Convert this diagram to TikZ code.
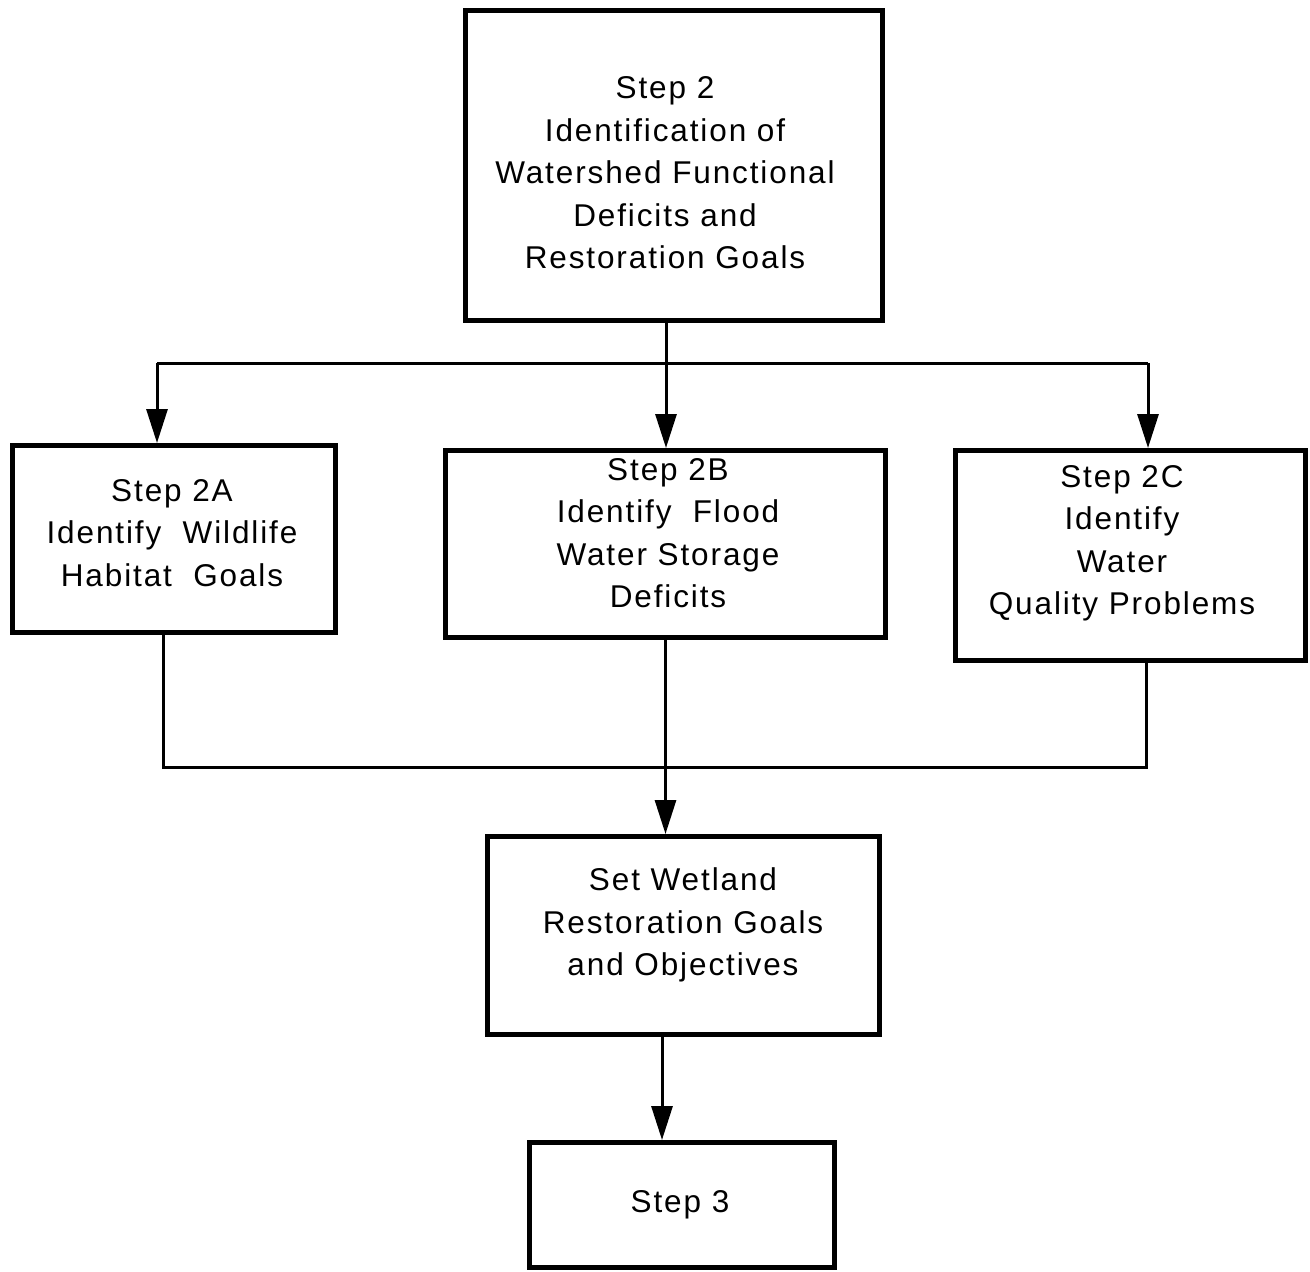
\documentclass[tikz,border=0pt]{standalone}
\usepackage{fontspec}
\setmainfont{Liberation Sans}[LetterSpace=6]
\usetikzlibrary{arrows.meta}
\begin{document}
\begin{tikzpicture}[x=1pt,y=-1pt,
  box/.style={draw=black,line width=5pt,rectangle,inner sep=0pt,fill=white},
  txt/.style={align=center,inner sep=0pt,font=\fontsize{31.5pt}{42.5pt}\selectfont},
  wire/.style={draw=black,line width=3pt},
  flow/.style={wire,-{Triangle[length=34pt,width=21pt]}}]
\useasboundingbox[fill=white] (0,0) rectangle (1310,1272);

% boxes
\node[box,minimum width=417pt,minimum height=310pt] (top) at (674,165.5) {};
\node[box,minimum width=323pt,minimum height=187pt] (a) at (174,539) {};
\node[box,minimum width=440pt,minimum height=187pt] (b) at (665.5,544) {};
\node[box,minimum width=350pt,minimum height=210pt] (c) at (1130.5,555.5) {};
\node[box,minimum width=392pt,minimum height=198pt] (set) at (683.5,935.5) {};
\node[box,minimum width=305pt,minimum height=125pt] (s3) at (682,1205) {};

% box texts
\node[txt] (ttop) at (665,173) {Step 2\\Identification of\\Watershed Functional\\Deficits and\\Restoration Goals};
\node[txt] (ta) at (172,533) {Step 2A\\Identify~ Wildlife\\Habitat~ Goals};
\node[txt] (tb) at (668,533) {Step 2B\\Identify~ Flood\\Water Storage\\Deficits};
\node[txt] (tc) at (1122,543.5) {Step 2C\\Identify\\Water\\Quality Problems};
\node[txt] (tset) at (683,925) {Set Wetland\\Restoration Goals\\and Objectives};
\node[txt] (ts3) at (680,1205) {Step 3};

% junction points
\coordinate (j1) at (666,363);
\coordinate (jl) at (157,363);
\coordinate (jr) at (1148,363);
\coordinate (kl) at (163,767);
\coordinate (kr) at (1146,767);
\coordinate (m) at (662,1037);

% split from Step 2
\draw[wire] (j1 |- top.south) -- (j1);
\draw[wire] (jl) -- (jr);
\draw[flow] (jl) -- (a.north -| jl);
\draw[flow] (j1) -- (b.north -| j1);
\draw[flow] (jr) -- (c.north -| jr);

% merge into goals
\draw[wire] (a.south -| kl) -- (kl) -- (kr) -- (c.south -| kr);
\draw[flow] (b.south) -- (b.south |- set.north);
\draw[flow] (set.south -| m) -- (s3.north -| m);
\end{tikzpicture}
\end{document}
